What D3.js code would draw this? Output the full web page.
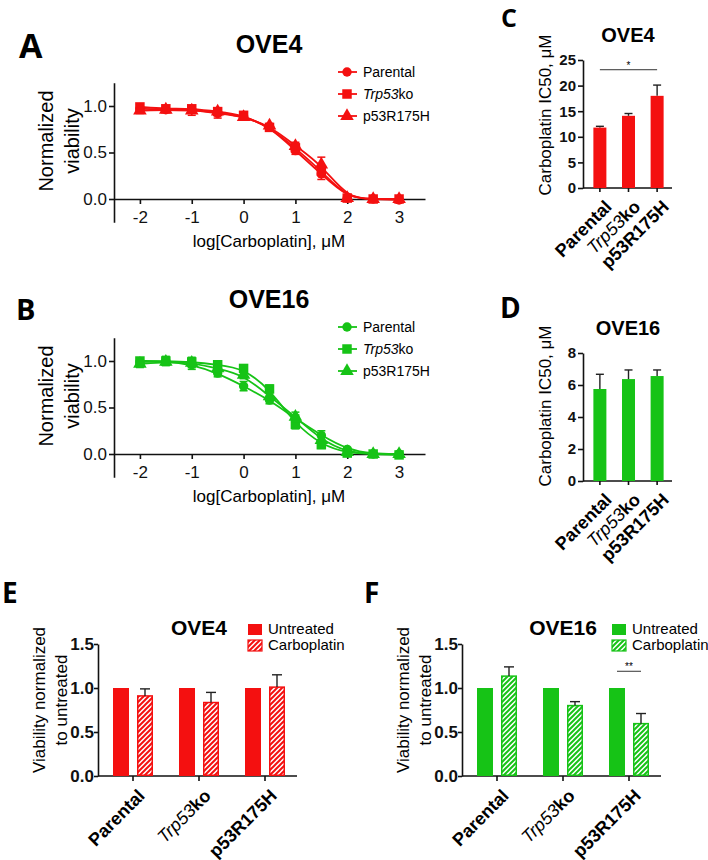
<!DOCTYPE html>
<html>
<head>
<meta charset="utf-8">
<script src="https://cdn.jsdelivr.net/npm/d3@7"></script>
<style>
  body { margin: 0; background: #fff; }
  svg { font-family: "Liberation Sans", Arial, sans-serif; }
  .axis path, .axis line { stroke: #111; stroke-width: 1.6px; }
  .axis text { fill: #111; }
</style>
</head>
<body>
<svg id="fig" width="708" height="860"></svg>
<script>
const RED = "#f41010";
const GREEN = "#16c316";

// dose points (log10 µM)
const logDose = [-2, -1.5, -1, -0.5, 0, 0.5, 1, 1.5, 2, 2.5, 3];
const cellLines = ["Parental", "Trp53ko", "p53R175H"];

// OVE4 normalized viability
const ove4Parental    = [0.97, 0.96, 0.96, 0.92, 0.89, 0.78, 0.52, 0.27, 0.01, 0.00, -0.01];
const ove4ParentalErr = [0.03, 0.02, 0.03, 0.05, 0.03, 0.02, 0.04, 0.06, 0.02, 0.01, 0.01];
const ove4Trp53ko     = [0.99, 0.97, 0.97, 0.94, 0.90, 0.77, 0.55, 0.30, 0.01, 0.00, 0.00];
const ove4Trp53koErr  = [0.03, 0.03, 0.03, 0.03, 0.03, 0.03, 0.04, 0.05, 0.02, 0.01, 0.01];
const ove4R175H       = [0.95, 0.96, 0.95, 0.94, 0.88, 0.79, 0.57, 0.37, 0.01, 0.00, 0.00];
const ove4R175HErr    = [0.03, 0.02, 0.05, 0.03, 0.03, 0.02, 0.04, 0.08, 0.02, 0.01, 0.01];

// OVE16 normalized viability
const ove16Parental    = [0.99, 1.00, 0.96, 0.87, 0.73, 0.58, 0.38, 0.20, 0.05, 0.00, 0.00];
const ove16ParentalErr = [0.04, 0.04, 0.05, 0.04, 0.05, 0.04, 0.04, 0.05, 0.02, 0.01, 0.01];
const ove16Trp53ko     = [1.00, 1.00, 0.99, 0.96, 0.92, 0.70, 0.32, 0.10, 0.01, 0.00, -0.01];
const ove16Trp53koErr  = [0.03, 0.05, 0.05, 0.03, 0.03, 0.04, 0.05, 0.04, 0.02, 0.01, 0.01];
const ove16R175H       = [0.97, 0.99, 0.98, 0.92, 0.85, 0.62, 0.40, 0.15, 0.02, 0.00, 0.00];
const ove16R175HErr    = [0.04, 0.03, 0.05, 0.03, 0.04, 0.04, 0.05, 0.05, 0.02, 0.01, 0.01];

// IC50 (µM)
const ic50Ove4     = [11.8, 14.1, 18.0];
const ic50Ove4Err  = [0.25, 0.45, 2.1];
const ic50Ove16    = [5.75, 6.37, 6.56];
const ic50Ove16Err = [0.92, 0.57, 0.38];

// viability normalized to untreated
const untreated     = [1, 1, 1];
const carboOve4     = [0.91, 0.835, 1.01];
const carboOve4Err  = [0.08, 0.115, 0.14];
const carboOve16    = [1.135, 0.80, 0.595];
const carboOve16Err = [0.105, 0.045, 0.115];

const svg = d3.select("#fig");
const defs = svg.append("defs");

// diagonal hatch fills
[["hatchRed", RED], ["hatchGreen", GREEN]].forEach(([id, c]) => {
  const p = defs.append("pattern").attr("id", id)
    .attr("patternUnits", "userSpaceOnUse").attr("width", 5).attr("height", 5);
  p.append("rect").attr("width", 5).attr("height", 5).attr("fill", "#fff");
  p.append("path").attr("d", "M-1,1 l2,-2 M0,5 l5,-5 M4,6 l2,-2")
    .attr("stroke", c).attr("stroke-width", 2);
});

function panelLetter(txt, x, y, size) {
  svg.append("text").attr("x", x).attr("y", y).text(txt)
    .style("font-family", "'Open Sans', sans-serif")
    .style("font-weight", 700).style("font-size", size + "px");
}

// label pieces for "Trp53ko": italic gene name + suffix
function addLineName(sel, name, boldRest) {
  if (name === "Trp53ko") {
    sel.append("tspan").text("Trp53").style("font-style", "italic").style("font-weight", 400);
    sel.append("tspan").text("ko").style("font-weight", boldRest ? 700 : 400);
  } else {
    sel.append("tspan").text(name).style("font-weight", boldRest ? 700 : 400);
  }
}

function dosePanel(dy, title, color, series) {
  const g = svg.append("g").attr("transform", `translate(0,${dy})`);
  const x = d3.scaleLinear().domain([-2.5, 3.5]).range([114, 425]);
  const y = d3.scaleLinear().domain([-0.25, 1.25]).range([222.25, 82.75]);

  g.append("g").attr("class", "axis").attr("transform", "translate(114,0)")
    .call(d3.axisLeft(y).tickValues([0, 0.5, 1]).tickFormat(d3.format(".1f"))
      .tickSize(5).tickSizeOuter(0))
    .call(a => a.selectAll("text").style("font-size", "17px").attr("x", -7));
  g.append("g").attr("class", "axis").attr("transform", `translate(0,${y(0)})`)
    .call(d3.axisBottom(x).tickValues(logDose.filter(Number.isInteger)).tickFormat(d => d)
      .tickSize(5).tickSizeOuter(0))
    .call(a => a.selectAll("text").style("font-size", "17px").attr("dy", "0.95em"));

  const line = d3.line().x(d => x(d[0])).y(d => y(d[1])).curve(d3.curveBasis);
  series.forEach(s => {
    const pts = logDose.map((d, i) => [d, s.vals[i], s.err[i]]);
    g.append("path").attr("d", line(pts)).attr("fill", "none")
      .attr("stroke", color).attr("stroke-width", 1.8);
    const eb = g.append("g").attr("stroke", color).attr("stroke-width", 1.5);
    pts.forEach(p => {
      const cx = x(p[0]);
      eb.append("line").attr("x1", cx).attr("x2", cx).attr("y1", y(p[1] - p[2])).attr("y2", y(p[1] + p[2]));
      eb.append("line").attr("x1", cx - 4).attr("x2", cx + 4).attr("y1", y(p[1] - p[2])).attr("y2", y(p[1] - p[2]));
      eb.append("line").attr("x1", cx - 4).attr("x2", cx + 4).attr("y1", y(p[1] + p[2])).attr("y2", y(p[1] + p[2]));
    });
    g.append("g").selectAll("path").data(pts).join("path")
      .attr("transform", d => `translate(${x(d[0])},${y(d[1])})`)
      .attr("d", d3.symbol().type(s.shape).size(s.size))
      .attr("fill", color);
  });

  // legend
  series.forEach((s, i) => {
    const ly = 72 + i * 22;
    g.append("line").attr("x1", 338).attr("x2", 357).attr("y1", ly).attr("y2", ly)
      .attr("stroke", color).attr("stroke-width", 1.8);
    g.append("path").attr("transform", `translate(347,${ly})`)
      .attr("d", d3.symbol().type(s.shape).size(s.size)).attr("fill", color);
    const t = g.append("text").attr("x", 363).attr("y", ly + 5).style("font-size", "14px");
    addLineName(t, cellLines[i], false);
  });

  g.append("text").attr("x", 269).attr("y", 53).attr("text-anchor", "middle")
    .style("font-weight", 700).style("font-size", "25px").text(title);
  g.append("text").attr("x", 269).attr("y", 247).attr("text-anchor", "middle")
    .style("font-size", "17px").text("log[Carboplatin], μM");
  [["Normalized", 53], ["viability", 79]].forEach(([t, bx]) => {
    g.append("text").attr("transform", `translate(${bx},141) rotate(-90)`)
      .attr("text-anchor", "middle").style("font-size", "20px").text(t);
  });
}

function ic50Panel(o) {
  const g = svg.append("g");
  const x = d3.scaleBand().domain(cellLines).range([585, 672]).paddingOuter(0.02);
  const y = d3.scaleLinear().domain([0, o.max]).range([o.y0, o.y1]);
  const bw = 13;

  g.append("g").attr("class", "axis").attr("transform", "translate(583,0)")
    .call(d3.axisLeft(y).ticks(o.max / o.step).tickSize(5).tickSizeOuter(0))
    .call(a => a.selectAll("text").style("font-size", "15px").style("font-weight", 700).attr("x", -7));
  g.append("g").attr("class", "axis").attr("transform", `translate(0,${o.y0})`)
    .call(d3.axisBottom(x).tickSize(4).tickSizeOuter(0).tickFormat(""))
    .call(a => a.select(".domain").attr("d", "M583,0H672"));

  g.selectAll("rect.bar").data(o.vals).join("rect").attr("class", "bar")
    .attr("x", (d, i) => x(cellLines[i]) + x.bandwidth() / 2 - bw / 2)
    .attr("width", bw).attr("y", d => y(d)).attr("height", d => y(0) - y(d))
    .attr("fill", o.color);
  o.vals.forEach((v, i) => {
    const cx = x(cellLines[i]) + x.bandwidth() / 2;
    const top = y(v + o.err[i]);
    g.append("line").attr("x1", cx).attr("x2", cx).attr("y1", y(v)).attr("y2", top).attr("stroke", "#222").attr("stroke-width", 1.4);
    g.append("line").attr("x1", cx - 4).attr("x2", cx + 4).attr("y1", top).attr("y2", top).attr("stroke", "#222").attr("stroke-width", 1.4);
  });

  cellLines.forEach(n => {
    const cx = x(n) + x.bandwidth() / 2;
    const t = g.append("text").attr("text-anchor", "end")
      .attr("transform", `translate(${cx + 4},${o.y0 + 11}) rotate(-45)`)
      .attr("dy", "0.7em").style("font-size", "18px");
    addLineName(t, n, true);
  });

  g.append("text").attr("x", 628).attr("y", o.titleY).attr("text-anchor", "middle")
    .style("font-weight", 700).style("font-size", "20px").text(o.title);
  g.append("text").attr("transform", `translate(551,${o.yTitleY}) rotate(-90)`)
    .attr("text-anchor", "middle").style("font-size", "17px").text("Carboplatin IC50, μM");

  if (o.sig) {
    const x1 = x(cellLines[0]) + x.bandwidth() / 2, x2 = x(cellLines[2]) + x.bandwidth() / 2;
    g.append("line").attr("x1", x1).attr("x2", x2).attr("y1", y(o.sig.at)).attr("y2", y(o.sig.at))
      .attr("stroke", "#333").attr("stroke-width", 1);
    g.append("text").attr("x", (x1 + x2) / 2).attr("y", y(o.sig.at) - 1).attr("text-anchor", "middle")
      .style("font-size", "10px").text(o.sig.label);
  }
}

function viabPanel(o) {
  const g = svg.append("g").attr("transform", `translate(${o.dx},0)`);
  const x = d3.scaleBand().domain(cellLines).range([100, 298]);
  const y = d3.scaleLinear().domain([0, 1.5]).range([776, 644]);
  const bw = 16;

  g.append("g").attr("class", "axis").attr("transform", "translate(98,0)")
    .call(d3.axisLeft(y).tickValues([0, 0.5, 1, 1.5]).tickFormat(d3.format(".1f")).tickSize(4).tickSizeOuter(0))
    .call(a => a.selectAll("text").style("font-size", "17px").style("font-weight", 700).attr("x", -4));
  g.append("g").attr("class", "axis").attr("transform", "translate(0,776)")
    .call(d3.axisBottom(x).tickSize(5).tickSizeOuter(0).tickFormat(""))
    .call(a => a.select(".domain").attr("d", "M98,0H297"));

  const hatch = o.color === RED ? "url(#hatchRed)" : "url(#hatchGreen)";
  cellLines.forEach((n, i) => {
    const c = x(n) + x.bandwidth() / 2;
    g.append("rect").attr("x", c - 20).attr("width", bw)
      .attr("y", y(untreated[i])).attr("height", y(0) - y(untreated[i])).attr("fill", o.color);
    g.append("rect").attr("x", c + 4.75).attr("width", bw - 1.5)
      .attr("y", y(o.vals[i])).attr("height", y(0) - y(o.vals[i]) - 0.75)
      .attr("fill", hatch).attr("stroke", o.color).attr("stroke-width", 1.5);
    const ec = c + 12, top = y(o.vals[i] + o.err[i]);
    g.append("line").attr("x1", ec).attr("x2", ec).attr("y1", y(o.vals[i])).attr("y2", top).attr("stroke", "#222").attr("stroke-width", 1.4);
    g.append("line").attr("x1", ec - 5).attr("x2", ec + 5).attr("y1", top).attr("y2", top).attr("stroke", "#222").attr("stroke-width", 1.4);

    const t = g.append("text").attr("text-anchor", "end")
      .attr("transform", `translate(${c + 4},788) rotate(-45)`)
      .attr("dy", "0.7em").style("font-size", "18px");
    addLineName(t, n, true);
  });

  if (o.sig) {
    const c = x(cellLines[o.sig.idx]) + x.bandwidth() / 2;
    const sy = y(o.sig.at);
    g.append("line").attr("x1", c - 12).attr("x2", c + 12).attr("y1", sy).attr("y2", sy)
      .attr("stroke", "#333").attr("stroke-width", 1);
    g.append("text").attr("x", c).attr("y", sy - 1).attr("text-anchor", "middle")
      .style("font-size", "10px").text(o.sig.label);
  }

  g.append("text").attr("x", o.titleX).attr("y", 635).attr("text-anchor", "middle")
    .style("font-weight", 700).style("font-size", "21px").text(o.title);
  [["Untreated", o.color], ["Carboplatin", hatch]].forEach(([t, f], i) => {
    g.append("rect").attr("x", 248).attr("y", 624 + i * 16).attr("width", 14).attr("height", 11)
      .attr("fill", f).attr("stroke", o.color).attr("stroke-width", i ? 1.2 : 0);
    g.append("text").attr("x", 268).attr("y", 634 + i * 16).style("font-size", "15px").text(t);
  });
  [["Viability normalized", 45], ["to untreated", 67]].forEach(([t, bx]) => {
    g.append("text").attr("transform", `translate(${bx},700) rotate(-90)`)
      .attr("text-anchor", "middle").style("font-size", "17px").text(t);
  });
}

dosePanel(0, "OVE4", RED, [
  { vals: ove4Parental, err: ove4ParentalErr, shape: d3.symbolCircle, size: 70 },
  { vals: ove4Trp53ko, err: ove4Trp53koErr, shape: d3.symbolSquare, size: 90 },
  { vals: ove4R175H, err: ove4R175HErr, shape: d3.symbolTriangle, size: 80 }
]);
dosePanel(255, "OVE16", GREEN, [
  { vals: ove16Parental, err: ove16ParentalErr, shape: d3.symbolCircle, size: 70 },
  { vals: ove16Trp53ko, err: ove16Trp53koErr, shape: d3.symbolSquare, size: 90 },
  { vals: ove16R175H, err: ove16R175HErr, shape: d3.symbolTriangle, size: 80 }
]);

ic50Panel({ vals: ic50Ove4, err: ic50Ove4Err, color: RED, max: 25, step: 5, y0: 188, y1: 60,
  title: "OVE4", titleY: 42, yTitleY: 115, sig: { at: 23.1, label: "*" } });
ic50Panel({ vals: ic50Ove16, err: ic50Ove16Err, color: GREEN, max: 8, step: 2, y0: 481, y1: 353,
  title: "OVE16", titleY: 335, yTitleY: 406 });

viabPanel({ dx: 0, vals: carboOve4, err: carboOve4Err, color: RED, title: "OVE4", titleX: 199 });
viabPanel({ dx: 364, vals: carboOve16, err: carboOve16Err, color: GREEN, title: "OVE16", titleX: 199,
  sig: { idx: 2, at: 1.19, label: "**" } });

panelLetter("A", 19, 58, 34);
panelLetter("B", 16, 320, 29);
panelLetter("C", 501, 27, 25);
panelLetter("D", 500, 318, 28);
panelLetter("E", 2, 603, 28);
panelLetter("F", 364, 603, 28);
</script>
</body>
</html>
